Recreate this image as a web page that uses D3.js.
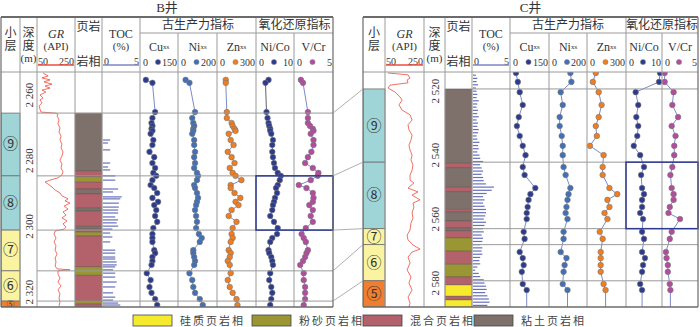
<!DOCTYPE html>
<html>
<head>
<meta charset="utf-8">
<script src="https://cdn.jsdelivr.net/npm/d3@7"></script>
<style>
  body { margin: 0; background: #fff; }
  svg text { font-family: "Liberation Serif", "Noto Sans CJK SC", serif; fill: #333; }
</style>
</head>
<body>
<div id="graphic"></div>
<script>
// depth ticks (m)
const bDepthTicks = [2260, 2280, 2300, 2320]
const cDepthTicks = [2520, 2540, 2560, 2580]

// small layers, tops of each layer then bottom of the log
const layerNames = ['⑨', '⑧', '⑦', '⑥', '⑤']
const bLayerBounds = [2265.5, 2284.6, 2301.1, 2313.5, 2322.7, 2324.5]
const cLayerBounds = [2519.3, 2542.2, 2563.0, 2568.0, 2579.3, 2587.5]

// highlighted interval (blue box)
const bBox = [2284.6, 2301.1]
const cBox = [2542.2, 2563.0]

// lithofacies [top, bottom, type]
const bLith = [
  [2265.5, 2283.1, 'clay'], [2283.1, 2284.9, 'mix'], [2284.9, 2286.5, 'silt'], [2286.5, 2288.6, 'mix'],
  [2288.6, 2290.1, 'clay'], [2290.1, 2294.4, 'mix'], [2294.4, 2295.3, 'clay'], [2295.3, 2299.9, 'mix'],
  [2299.9, 2300.8, 'clay'], [2300.8, 2301.7, 'mix'], [2301.7, 2302.9, 'silt'], [2302.9, 2312.3, 'mix'],
  [2312.3, 2314.8, 'silt'], [2314.8, 2322.7, 'mix'], [2322.7, 2323.6, 'silt'], [2323.6, 2324.5, 'mix']
]
const cLith = [
  [2519.3, 2542.5, 'clay'], [2542.5, 2544.0, 'mix'], [2544.0, 2550.0, 'clay'], [2550.0, 2551.5, 'mix'],
  [2551.5, 2556.9, 'clay'], [2556.9, 2557.8, 'mix'], [2557.8, 2560.6, 'clay'], [2560.6, 2562.8, 'mix'],
  [2562.8, 2563.7, 'clay'], [2563.7, 2565.9, 'mix'], [2565.9, 2570.0, 'silt'], [2570.0, 2574.1, 'mix'],
  [2574.1, 2578.1, 'silt'], [2578.1, 2580.6, 'mix'], [2580.6, 2584.1, 'si'], [2584.1, 2585.3, 'mix'],
  [2585.3, 2587.5, 'si']
]

// GR curve [depth, API]
const bGR = [
  [2253.3, 78], [2254.2, 106], [2254.8, 72], [2255.4, 117], [2256.0, 83], [2256.7, 128], [2257.3, 89],
  [2257.9, 117], [2258.5, 72], [2259.1, 94], [2260.0, 61], [2260.9, 78], [2261.5, 61], [2262.4, 72],
  [2263.3, 56], [2264.3, 61], [2265.2, 67], [2265.5, 145], [2265.8, 161], [2266.4, 156], [2267.6, 167],
  [2268.8, 161], [2270.0, 172], [2271.3, 167], [2272.5, 178], [2273.7, 172], [2274.9, 183], [2276.1, 178],
  [2277.3, 189], [2278.6, 183], [2279.8, 172], [2281.0, 183], [2282.2, 178], [2283.4, 189], [2284.3, 183],
  [2285.2, 161], [2285.9, 117], [2286.5, 89], [2287.1, 106], [2288.0, 128], [2288.9, 145], [2289.8, 172],
  [2290.7, 183], [2291.6, 217], [2292.2, 200], [2292.9, 228], [2293.8, 195], [2294.7, 217], [2295.6, 189],
  [2296.5, 206], [2297.4, 183], [2298.3, 211], [2299.2, 189], [2300.2, 206], [2300.8, 195], [2301.4, 145],
  [2302.3, 139], [2303.5, 150], [2304.7, 139], [2305.9, 150], [2307.2, 145], [2308.4, 156], [2309.6, 145],
  [2310.8, 150], [2312.0, 145], [2312.9, 156], [2313.2, 228], [2313.5, 161], [2314.5, 161], [2315.7, 172],
  [2316.9, 161], [2318.1, 178], [2319.3, 161], [2320.5, 172], [2321.8, 167], [2323.0, 172], [2324.2, 167]
]
const cGR = [
  [2514.3, 61], [2514.9, 169], [2515.9, 180], [2516.5, 164], [2517.4, 169], [2518.1, 72], [2519.0, 61],
  [2520.3, 99], [2521.8, 126], [2522.8, 137], [2524.3, 120], [2525.9, 137], [2527.4, 180], [2529.0, 191],
  [2530.5, 169], [2532.1, 174], [2533.7, 191], [2535.3, 185], [2536.9, 174], [2538.4, 180], [2540.0, 191],
  [2541.5, 185], [2543.1, 196], [2544.7, 191], [2546.2, 180], [2547.8, 180], [2548.7, 201], [2550.3, 169],
  [2551.5, 223], [2552.5, 191], [2554.0, 234], [2555.0, 196], [2556.2, 201], [2558.1, 191], [2559.7, 196],
  [2561.2, 185], [2563.4, 180], [2565.0, 164], [2566.5, 169], [2568.1, 196], [2569.4, 234], [2570.3, 191],
  [2571.9, 169], [2573.7, 180], [2575.9, 164], [2578.1, 185], [2580.0, 174], [2582.2, 191], [2584.4, 169],
  [2586.3, 180], [2587.5, 174]
]

// TOC (%) [depth, value]
const bTOC = [
  [2273.7, 1.0], [2274.6, 0.7], [2276.7, 1.0], [2280.7, 1.0], [2281.9, 0.7], [2282.8, 1.0], [2284.6, 1.7],
  [2285.9, 1.7], [2288.6, 2.1], [2289.5, 1.4], [2291.0, 2.6], [2291.6, 2.4], [2292.9, 2.2], [2294.1, 2.2],
  [2295.0, 2.1], [2295.9, 2.1], [2297.1, 1.7], [2298.0, 2.1], [2298.9, 1.9], [2299.9, 2.1], [2300.8, 1.3],
  [2302.0, 1.0], [2303.2, 1.3], [2304.7, 1.0], [2307.2, 1.7], [2308.1, 1.7], [2309.3, 1.7], [2309.9, 1.7],
  [2310.8, 1.9], [2311.7, 1.9], [2312.3, 1.7], [2313.2, 1.4], [2314.2, 1.7], [2315.4, 1.7], [2316.9, 1.9],
  [2318.4, 1.7], [2320.2, 1.4], [2321.5, 1.7], [2322.4, 1.4], [2323.3, 2.1], [2323.9, 2.4]
]
const cTOC = [
  [2515, 0.4], [2516, 0.6], [2517, 0.5], [2518, 0.7], [2519, 0.4], [2520, 0.5], [2521, 0.6], [2522, 0.5],
  [2523, 0.8], [2524, 0.6], [2525, 0.5], [2526, 0.7], [2527, 0.6], [2528, 0.8], [2529, 0.5], [2530, 0.7],
  [2531, 0.6], [2532, 0.8], [2533, 0.7], [2534, 0.5], [2535, 0.6], [2536, 0.9], [2537, 0.7], [2538, 0.8],
  [2539, 0.6], [2540, 0.9], [2541, 1.0], [2542, 1.4], [2543, 1.0], [2544, 1.2], [2545, 1.4], [2546, 1.2],
  [2547, 1.4], [2548, 1.5], [2549, 1.8], [2550, 2.9], [2551, 2.6], [2552, 1.9], [2553, 1.4], [2554, 1.6],
  [2555, 1.4], [2556, 1.6], [2557, 1.8], [2558, 1.8], [2559, 1.7], [2560, 1.5], [2561, 1.8], [2562, 1.6],
  [2563, 1.4], [2564, 1.5], [2565, 1.2], [2566, 1.4], [2567, 1.3], [2568, 1.0], [2569, 1.3], [2570, 1.2],
  [2571, 1.3], [2572, 1.0], [2573, 0.9], [2574, 1.0], [2575, 0.6], [2576, 0.3], [2577, 0.8], [2578, 1.0],
  [2579, 1.5], [2580, 1.6], [2581, 1.8], [2582, 1.9], [2583, 1.7], [2584, 2.0], [2585, 2.2], [2586, 2.3],
  [2587, 2.0]
]

// geochemical samples, B well
const bDepth = [2255.4, 2256.3, 2265.2, 2267.0, 2268.5, 2269.4, 2270.3, 2270.9, 2271.8, 2273.7, 2275.2, 2277.3,
  2278.9, 2280.7, 2282.2, 2283.7, 2284.6, 2285.9, 2287.4, 2288.3, 2289.8, 2291.3, 2292.5, 2293.5, 2295.0,
  2296.8, 2298.6, 2300.5, 2302.3, 2303.5, 2304.7, 2307.2, 2308.1, 2309.3, 2310.5, 2311.7, 2314.2, 2316.3,
  2318.4, 2320.2, 2322.1, 2323.9]
const bCu = [17, 46, 58, 46, 42, 46, 42, 46, 38, 50, 46, 33, 54, 46, 58, 50, 63, 46, 38, 54, 67, 46, 71, 54, 63,
  58, 67, 50, 46, 46, 46, 54, 58, 46, 46, 42, 21, 38, 33, 42, 58, 67]
const bNi = [32, 54, 86, 70, 76, 81, 76, 76, 70, 81, 81, 86, 81, 86, 81, 97, 103, 97, 81, 86, 97, 103, 97, 92, 86,
  92, 97, 92, 108, 124, 113, 76, 76, 81, 86, 81, 54, 70, 76, 86, 113, 130]
const bZn = [58, 58, 67, 67, 108, 117, 133, 142, 83, 100, 125, 75, 108, 133, 92, 117, 142, 192, 100, 100, 133, 183,
  142, 167, 108, 83, 150, 117, 108, 117, 100, 83, 100, 92, 75, 92, 100, 75, 92, 117, 150, 158]
const bNiCo = [3.1, 2.2, 2.5, 2.8, 3.1, 3.3, 3.6, 3.6, 3.9, 4.4, 4.2, 4.2, 4.4, 4.7, 5.0, 5.8, 6.7, 6.4, 5.8, 5.3,
  5.6, 5.0, 4.7, 4.4, 4.2, 3.6, 4.7, 5.8, 5.6, 4.2, 3.6, 3.1, 3.3, 3.9, 4.2, 4.4, 3.6, 3.3, 3.9, 4.2, 3.9, 3.6]
const bVCr = [0.7, 1.0, 1.7, 1.7, 1.7, 2.0, 2.4, 2.5, 2.1, 2.5, 2.5, 2.2, 1.7, 1.3, 2.4, 3.2, 3.1, 2.1, 0.4, 1.5,
  2.4, 2.5, 2.4, 1.9, 2.4, 2.1, 2.4, 1.4, 0.8, 1.1, 1.4, 1.7, 1.5, 1.3, 1.0, 0.6, 1.1, 1.1, 1.3, 1.3, 1.3, 1.1]

// geochemical samples, C well (last one sits below the log bottom)
const cDepth = [2514.3, 2517.1, 2520.3, 2524.3, 2528.1, 2530.9, 2534.0, 2537.1, 2540.0, 2543.7, 2546.2, 2550.3,
  2552.2, 2554.0, 2556.2, 2558.1, 2560.0, 2564.0, 2566.2, 2570.3, 2572.2, 2574.4, 2576.5, 2580.3, 2582.2, 2589]
const cCu = [17, 25, 33, 46, 29, 21, 33, 46, 58, 46, 54, 100, 79, 71, 67, 63, 63, 50, 54, 33, 46, 50, 42, 46, 63, 63]
const cNi = [114, 120, 57, 69, 51, 51, 63, 69, 69, 74, 86, 114, 103, 97, 91, 86, 97, 74, 74, 57, 91, 80, 74, 69, 97, 97]
const cZn = [58, 33, 83, 108, 83, 58, 67, 8, 125, 117, 117, 175, 242, 158, 175, 133, 158, 92, 117, 100, 100, 100, 100,
  125, 142, 142]
const cNiCo = [10.0, 9.7, 2.4, 3.2, 2.6, 3.2, 2.9, 1.8, 3.8, 5.0, 4.1, 4.4, 5.0, 4.4, 4.4, 3.8, 4.7, 4.4, 5.0, 4.4,
  5.3, 4.7, 4.4, 3.8, 4.4, 4.4]
const cVCr = [0.1, 0.1, 1.5, 1.3, 2.2, 1.2, 1.8, 1.6, 1.6, 1.3, 1.0, 1.2, 1.5, 1.5, 0.9, 0.7, 2.5, 1.2, 0.9, 0.3, 0.4,
  0.6, 0.6, 0.9, 1.0, 1.0]

const legendNames = ['硅质页岩相', '粉砂页岩相', '混合页岩相', '粘土页岩相']
const legendKeys = ['si', 'silt', 'mix', 'clay'];

(function () {
  var width = 700, height = 327
  var top = 17, subTop = 33, headBot = 72, bot = 307

  var lithColor = { si: '#f6ea2e', silt: '#9b9634', mix: '#b3616b', clay: '#7e716c' }
  var layerColor = ['#9fd5d7', '#9fd5d7', '#faf3a0', '#faf3a0', '#ef7e30']
  var gridColor = '#9a9a9a'

  var indicators = [
    { key: 'cu', label: 'Cu', sub: 'xs', max: 150, color: '#2c3b8e' },
    { key: 'ni', label: 'Ni', sub: 'xs', max: 200, color: '#4170b6' },
    { key: 'zn', label: 'Zn', sub: 'xs', max: 300, color: '#f27d1e' },
    { key: 'nico', label: 'Ni/Co', max: 10, color: '#2c3b8e' },
    { key: 'vcr', label: 'V/Cr', max: 5, color: '#b34b9e' }
  ]

  var panels = [
    {
      id: 'b', title: 'B井', edges: [1, 20, 37, 75, 102, 140, 178, 217, 256, 294, 333],
      order: ['layer', 'depth', 'gr', 'lith', 'toc', 'cu', 'ni', 'zn', 'nico', 'vcr'],
      domain: [2253, 2324.5], ticks: bDepthTicks, bounds: bLayerBounds, lith: bLith, gr: bGR, toc: bTOC,
      depth: bDepth, series: { cu: bCu, ni: bNi, zn: bZn, nico: bNiCo, vcr: bVCr }, box: bBox,
      gridFrom: 2, niCoLine: '#3a3a3a'
    },
    {
      id: 'c', title: 'C井', edges: [363, 385, 424, 445, 472, 510, 549, 587, 626, 662, 698],
      order: ['layer', 'gr', 'depth', 'lith', 'toc', 'cu', 'ni', 'zn', 'nico', 'vcr'],
      domain: [2514, 2587.5], ticks: cDepthTicks, bounds: cLayerBounds, lith: cLith, gr: cGR, toc: cTOC,
      depth: cDepth, series: { cu: cCu, ni: cNi, zn: cZn, nico: cNiCo, vcr: cVCr }, box: cBox,
      gridFrom: 4, niCoLine: '#5b6cb8'
    }
  ]

  var svg = d3.select('#graphic').append('svg')
    .attr('width', width)
    .attr('height', height)

  function label(g, x, y, s, size, anchor) {
    return g.append('text')
      .attr('x', x).attr('y', y)
      .attr('text-anchor', anchor || 'middle')
      .attr('dominant-baseline', 'central')
      .style('font-size', size + 'px')
      .text(s)
  }

  panels.forEach(function (p) {
    var g = svg.append('g')
    var col = {}
    p.order.forEach(function (k, i) { col[k] = [p.edges[i], p.edges[i + 1]] })
    var x0 = p.edges[0], x1 = p.edges[p.edges.length - 1]
    var y = d3.scaleLinear().domain(p.domain).range([headBot, bot])

    g.append('clipPath').attr('id', 'clip-' + p.id)
      .append('rect').attr('x', x0).attr('y', headBot).attr('width', x1 - x0).attr('height', bot - headBot)
    var plot = g.append('g').attr('clip-path', 'url(#clip-' + p.id + ')')

    // small layers
    layerNames.forEach(function (n, i) {
      var yt = y(p.bounds[i]), yb = y(p.bounds[i + 1])
      plot.append('rect')
        .attr('x', col.layer[0]).attr('y', yt)
        .attr('width', col.layer[1] - col.layer[0]).attr('height', yb - yt)
        .attr('fill', layerColor[i]).attr('stroke', '#6f6f6f').attr('stroke-width', 0.8)
      label(plot, (col.layer[0] + col.layer[1]) / 2, (yt + yb) / 2, n, yb - yt > 12 ? 15 : 8)
    })

    // lithofacies
    plot.selectAll('.lith').data(p.lith).enter().append('rect')
      .attr('x', col.lith[0]).attr('y', d => y(d[0]))
      .attr('width', col.lith[1] - col.lith[0]).attr('height', d => y(d[1]) - y(d[0]))
      .attr('fill', d => lithColor[d[2]])
      .attr('stroke', '#5b4d4a').attr('stroke-width', 0.4)

    // layer boundaries across the log
    var gx0 = p.edges[p.gridFrom]
    p.bounds.slice(0, 5).forEach(function (b) {
      g.append('line')
        .attr('x1', gx0).attr('x2', x1).attr('y1', y(b)).attr('y2', y(b))
        .attr('stroke', gridColor).attr('stroke-width', 1)
    })

    // GR curve
    var xGR = d3.scaleLinear().domain([50, 250]).range([col.gr[0] + 1, col.gr[1] - 1])
    plot.append('path')
      .datum(p.gr)
      .attr('fill', 'none').attr('stroke', '#f04b3c').attr('stroke-width', 0.8)
      .attr('d', d3.line().x(d => xGR(d[1])).y(d => y(d[0])))

    // TOC bars
    var xTOC = d3.scaleLinear().domain([0, 5]).range([col.toc[0] + 1, col.toc[1] - 1])
    plot.selectAll('.toc').data(p.toc).enter().append('rect')
      .attr('x', xTOC(0)).attr('y', d => y(d[0]) - 0.6)
      .attr('width', d => xTOC(d[1]) - xTOC(0)).attr('height', 1.2)
      .attr('fill', '#6871bb')

    // vertical separators
    var inner = { ni: 1, zn: 1, vcr: 1 }
    p.order.forEach(function (k, i) {
      if (i === 0) return
      var xx = p.edges[i]
      g.append('line')
        .attr('x1', xx).attr('x2', xx)
        .attr('y1', inner[k] ? subTop : top).attr('y2', bot)
        .attr('stroke', gridColor).attr('stroke-width', 1)
    })

    // geochemical series
    indicators.forEach(function (ind) {
      var c = col[ind.key]
      var xs = d3.scaleLinear().domain([0, ind.max]).range([c[0] + 2, c[1] - 2])
      var vals = p.series[ind.key]
      var pts = p.depth.map((d, i) => [d, vals[i]])
      plot.append('path')
        .datum(pts)
        .attr('fill', 'none')
        .attr('stroke', ind.key === 'nico' ? p.niCoLine : '#5b6cb8')
        .attr('stroke-width', 0.8)
        .attr('d', d3.line().x(d => xs(d[1])).y(d => y(d[0])))
      plot.selectAll('.pt-' + ind.key).data(pts).enter().append('circle')
        .attr('cx', d => xs(d[1])).attr('cy', d => y(d[0])).attr('r', 2.8)
        .attr('fill', ind.color).attr('stroke', '#777').attr('stroke-width', 0.6)
    })

    // highlight box
    g.append('rect')
      .attr('x', col.nico[0]).attr('y', y(p.box[0]))
      .attr('width', col.vcr[1] - col.nico[0]).attr('height', y(p.box[1]) - y(p.box[0]))
      .attr('fill', 'none').attr('stroke', '#2d3a91').attr('stroke-width', 1.5)

    // depth labels
    var cxD = (col.depth[0] + col.depth[1]) / 2
    p.ticks.forEach(function (t) {
      g.append('text')
        .attr('transform', 'translate(' + cxD + ',' + y(t) + ') rotate(-90)')
        .attr('text-anchor', 'middle').attr('dominant-baseline', 'central')
        .style('font-size', '11px')
        .text(d3.format(',')(t).replace(',', ' '))
    })

    // header
    var cx = k => (col[k][0] + col[k][1]) / 2
    label(g, (x0 + x1) / 2, 7, p.title, 13)
    label(g, cx('layer'), 33, '小', 12)
    label(g, cx('layer'), 46, '层', 12)
    label(g, cx('depth'), 33, '深', 12)
    label(g, cx('depth'), 46, '度', 12)
    label(g, cx('depth'), 58, '(m)', 11)
    label(g, cx('gr'), 34, 'GR', 12).style('font-style', 'italic')
    label(g, cx('gr'), 46, '(API)', 11)
    label(g, col.gr[0] + 1, 61, '50', 10, 'start')
    label(g, col.gr[1] - 1, 61, '250', 10, 'end')
    g.append('line').attr('x1', col.gr[0] + 1).attr('x2', col.gr[1] - 1).attr('y1', 65).attr('y2', 65)
      .attr('stroke', '#f04b3c').attr('stroke-width', 1.5)
    label(g, cx('lith'), 27, '页岩', 12)
    label(g, cx('lith'), 62, '岩相', 12)
    label(g, cx('toc'), 34, 'TOC', 12)
    label(g, cx('toc'), 46, '(%)', 11)
    label(g, col.toc[0] + 2, 61, '0', 10, 'start')
    label(g, col.toc[1] - 1, 61, '5', 10, 'end')
    g.append('line').attr('x1', col.toc[0] + 1).attr('x2', col.toc[1] - 1).attr('y1', 65).attr('y2', 65)
      .attr('stroke', '#7c84c4').attr('stroke-width', 1.5)

    indicators.forEach(function (ind) {
      var c = col[ind.key]
      var t = label(g, (c[0] + c[1]) / 2, 47, ind.label, 12)
      if (ind.sub) t.append('tspan').style('font-size', '7px').text(ind.sub)
      label(g, c[0] + 3, 62, '0', 10, 'start')
      label(g, c[1] - 1, 62, String(ind.max), 10, 'end')
      g.append('circle').attr('cx', (c[0] + c[1]) / 2 - 1).attr('cy', 62).attr('r', 2.6)
        .attr('fill', ind.color).attr('stroke', '#888').attr('stroke-width', 0.5)
    })

    label(g, (col.cu[0] + col.zn[1]) / 2, 25, '古生产力指标', 12)
    label(g, (col.nico[0] + col.vcr[1]) / 2, 25, '氧化还原指标', 12)
    g.append('line').attr('x1', col.cu[0]).attr('x2', x1).attr('y1', subTop).attr('y2', subTop)
      .attr('stroke', gridColor).attr('stroke-width', 1)
    g.append('line').attr('x1', x0).attr('x2', x1).attr('y1', headBot).attr('y2', headBot)
      .attr('stroke', gridColor).attr('stroke-width', 1)

    // frame
    g.append('line').attr('x1', x0).attr('x2', x1).attr('y1', top).attr('y2', top)
      .attr('stroke', '#6b6b6b').attr('stroke-width', 2)
    g.append('line').attr('x1', x0).attr('x2', x1).attr('y1', bot).attr('y2', bot)
      .attr('stroke', '#6b6b6b').attr('stroke-width', 1.5)
    g.append('line').attr('x1', x0).attr('x2', x0).attr('y1', top).attr('y2', bot)
      .attr('stroke', '#6b6b6b').attr('stroke-width', 1.2)
    g.append('line').attr('x1', x1).attr('x2', x1).attr('y1', top).attr('y2', bot)
      .attr('stroke', '#6b6b6b').attr('stroke-width', 1.2)

    p.y = y
  })

  // correlation lines between the wells
  var yB = panels[0].y, yC = panels[1].y
  bLayerBounds.slice(0, 5).forEach(function (b, i) {
    svg.append('line')
      .attr('x1', 333).attr('y1', yB(b))
      .attr('x2', 363).attr('y2', yC(cLayerBounds[i]))
      .attr('stroke', '#9a9a9a').attr('stroke-width', 0.8)
  })

  // legend
  var legendX = [133, 252, 363, 474]
  var lg = svg.append('g')
  legendKeys.forEach(function (k, i) {
    lg.append('rect')
      .attr('x', legendX[i]).attr('y', 315).attr('width', 39).attr('height', 11)
      .attr('fill', lithColor[k]).attr('stroke', '#444').attr('stroke-width', 0.8)
    label(lg, legendX[i] + 47, 321, legendNames[i], 11, 'start')
      .style('letter-spacing', '2px').style('fill', '#444')
  })
})()
</script>
</body>
</html>
